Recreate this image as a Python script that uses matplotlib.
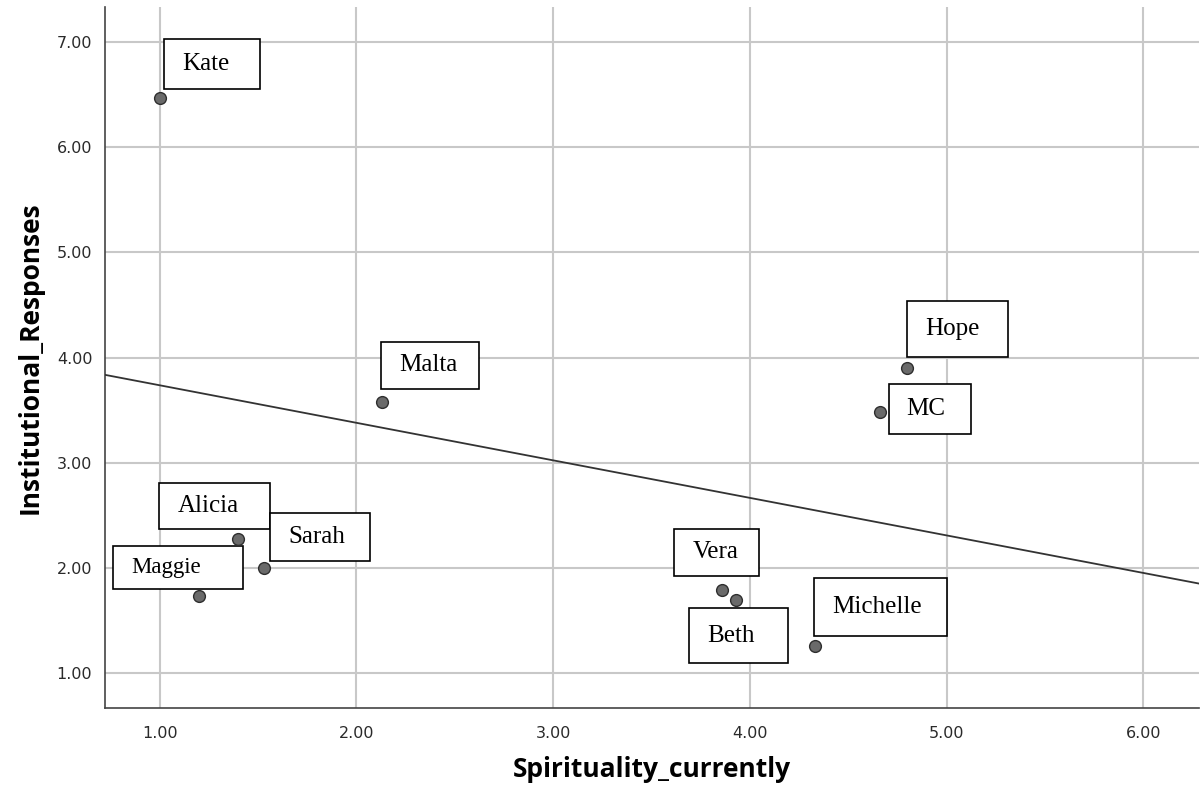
import numpy as np
import matplotlib
matplotlib.use("Agg")
import matplotlib.pyplot as plt
from matplotlib.patches import Rectangle

# Datos
names = ["Kate", "Malta", "Hope", "MC", "Vera", "Beth", "Michelle", "Alicia", "Sarah", "Maggie"]
spirituality = [1.00, 2.13, 4.80, 4.66, 3.86, 3.93, 4.33, 1.40, 1.53, 1.20]
institutional = [6.47, 3.58, 3.90, 3.48, 1.79, 1.69, 1.26, 2.27, 2.00, 1.73]

# Recta de ajuste (tal como aparece en el gráfico)
fit_intercept = 4.094
fit_slope = -0.357

x_ticks = [1, 2, 3, 4, 5, 6]
y_ticks = [1, 2, 3, 4, 5, 6, 7]

# Cajas de etiqueta: (izq, der, arriba, abajo) en píxeles respecto al punto (y hacia abajo)
label_boxes = [
    (4.5, 100, -59, -9),
    (-1, 97, -60, -13),
    (0, 101, -67, -11),
    (9, 91, -28, 22),
    (-48, 37, -61, -14),
    (-47, 52, 8, 63),
    (-1, 132, -68, -10),
    (-79, 32, -56, -10),
    (6, 106, -55, -7),
    (-86, 44, -50, -7),
]
label_sizes = [18, 18, 18, 18, 18, 18, 18, 18, 18, 16.5]

fig = plt.figure(figsize=(12, 7.88), dpi=100)
ax = fig.add_axes([0.0873, 0.1015, 0.912, 0.8896])
ax.set_xlim(0.721, 6.284)
ax.set_ylim(0.667, 7.335)

ax.grid(True, color="#c8c8c8", linewidth=1.5)
ax.set_axisbelow(True)
for s in ["top", "right"]:
    ax.spines[s].set_visible(False)
for s in ["left", "bottom"]:
    ax.spines[s].set_color("#444444")
    ax.spines[s].set_linewidth(1.2)

ax.set_xticks(x_ticks)
ax.set_yticks(y_ticks)
ax.set_xticklabels([f"{v:.2f}" for v in x_ticks])
ax.set_yticklabels([f"{v:.2f}" for v in y_ticks])
ax.tick_params(length=0, labelsize=11.5, colors="#2a2a2a", pad=9)
ax.tick_params(axis="x", pad=13)
for lab in ax.get_xticklabels() + ax.get_yticklabels():
    lab.set_fontfamily("DejaVu Sans")

# recta
xl = np.array(ax.get_xlim())
ax.plot(xl, fit_intercept + fit_slope * xl, color="#333333", linewidth=1.3, zorder=3)

ax.scatter(spirituality, institutional, s=72, color="#6a6a6a", edgecolor="#2e2e2e",
           linewidth=1.0, zorder=5)

# etiquetas con caja
inv = ax.transData.inverted()
for name, x, y, (l, r, t, b), fs in zip(names, spirituality, institutional, label_boxes, label_sizes):
    px, py = ax.transData.transform((x, y))
    x0, y0 = inv.transform((px + l, py - b))
    x1, y1 = inv.transform((px + r, py - t))
    ax.add_patch(Rectangle((x0, y0), x1 - x0, y1 - y0, facecolor="white",
                           edgecolor="black", linewidth=1.2, zorder=4))
    tx, _ = inv.transform((px + l + 18, py))
    ax.text(tx, (y0 + y1) / 2, name, fontsize=fs, family="Liberation Serif",
            ha="left", va="center", zorder=6)

ax.set_xlabel("Spirituality_currently", fontsize=19, fontweight="bold", family="Open Sans")
ax.set_ylabel("Institutional_Responses", fontsize=19, fontweight="bold", family="Open Sans")
ax.xaxis.set_label_coords(0.5, -0.088)
ax.xaxis.label.set_va("center")
ax.yaxis.set_label_coords(-0.068, 0.5)
ax.yaxis.label.set_va("center")

fig.savefig("out.png", dpi=100)
